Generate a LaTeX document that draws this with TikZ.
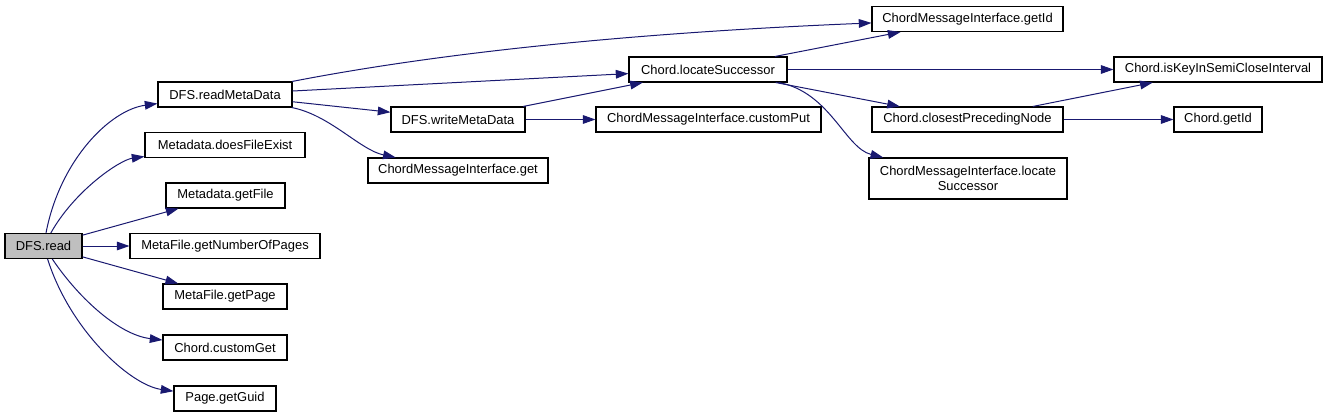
\documentclass[tikz,border=0pt]{standalone}
\usepackage{fontspec}
\setmainfont{Liberation Sans}
\usepackage{tikz}
\usetikzlibrary{arrows.meta}
\definecolor{callblue}{RGB}{25,25,112}
\definecolor{rootgray}{RGB}{191,191,191}
\tikzset{
  fn/.style={rectangle, draw=black, fill=white, line width=0.8pt,
    minimum height=18.75pt, inner sep=0pt, align=center,
    font=\fontsize{9.7}{11}\selectfont},
  rootfn/.style={fn, fill=rootgray},
  call/.style={-{Triangle[length=9.5pt,width=6.5pt]}, line width=0.75pt, color=callblue}
}

\begin{document}
\begin{tikzpicture}[x=0.75pt, y=-0.75pt]
  \useasboundingbox (0,0) rectangle (1327,417);

  % caller
  \node[rootfn, minimum width=57.75pt] (read) at (43.5,246) {DFS.read};

  % first level
  \node[fn, minimum width=100.5pt] (readMeta) at (225,94.5) {DFS.readMetaData};
  \node[fn, minimum width=120pt] (fileExist) at (225,145) {Metadata.doesFileExist};
  \node[fn, minimum width=89.25pt] (getFile) at (225.5,195.5) {Metadata.getFile};
  \node[fn, minimum width=142.5pt] (numPages) at (225,246) {MetaFile.getNumberOfPages};
  \node[fn, minimum width=93pt] (getPage) at (225,296.5) {MetaFile.getPage};
  \node[fn, minimum width=93pt] (customGet) at (225,347.5) {Chord.customGet};
  \node[fn, minimum width=76.5pt] (getGuid) at (225,398.5) {Page.getGuid};

  % second level
  \node[fn, minimum width=100.5pt] (writeMeta) at (458,119.5) {DFS.writeMetaData};
  \node[fn, minimum width=135pt] (cmiGet) at (458,170.5) {ChordMessageInterface.get};
  \node[fn, minimum width=118.5pt] (locSucc) at (708,69.5) {Chord.locateSuccessor};
  \node[fn, minimum width=168.75pt] (customPut) at (708.5,119.5) {ChordMessageInterface.customPut};

  % third level
  \node[fn, minimum width=143.25pt] (cmiGetId) at (967.5,19) {ChordMessageInterface.getId};
  \node[fn, minimum width=143.25pt] (closestPrec) at (967.5,119.5) {Chord.closestPrecedingNode};
  \node[fn, minimum width=148.5pt, minimum height=30.75pt] (cmiLocSucc) at (968,178.5)
    {ChordMessageInterface.locate\\Successor};

  % fourth level
  \node[fn, minimum width=156pt] (isKey) at (1218,69.5) {Chord.isKeyInSemiCloseInterval};
  \node[fn, minimum width=66pt] (chordGetId) at (1218,119.5) {Chord.getId};

  % calls from DFS.read
  \draw[call] (read) .. controls (60,160) and (110,110) .. (readMeta);
  \draw[call] (read) .. controls (75,190) and (120,160) .. (fileExist);
  \draw[call] (read) -- (getFile);
  \draw[call] (read) -- (numPages);
  \draw[call] (read) -- (getPage);
  \draw[call] (read) .. controls (80,300) and (120,335) .. (customGet);
  \draw[call] (read) .. controls (70,330) and (130,385) .. (getGuid);

  % calls from DFS.readMetaData
  \draw[call] (readMeta) .. controls (480,45) and (700,30) .. (cmiGetId);
  \draw[call] (readMeta) -- (locSucc);
  \draw[call] (readMeta) -- (writeMeta);
  \draw[call] (readMeta) .. controls (330,115) and (360,150) .. (cmiGet);

  % calls from DFS.writeMetaData
  \draw[call] (writeMeta) -- (locSucc);
  \draw[call] (writeMeta) -- (customPut);

  % calls from Chord.locateSuccessor
  \draw[call] (locSucc) -- (cmiGetId);
  \draw[call] (locSucc) -- (isKey);
  \draw[call] (locSucc) -- (closestPrec);
  \draw[call] (locSucc) .. controls (830,92) and (845,148) .. (cmiLocSucc);

  % calls from Chord.closestPrecedingNode
  \draw[call] (closestPrec) -- (isKey);
  \draw[call] (closestPrec) -- (chordGetId);
\end{tikzpicture}
\end{document}
